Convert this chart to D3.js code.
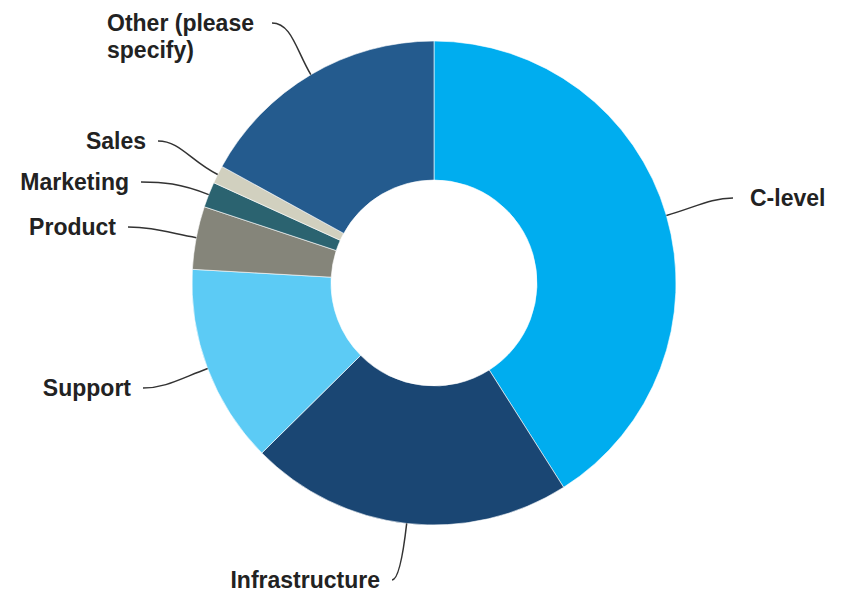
<!DOCTYPE html>
<html>
<head>
<meta charset="utf-8">
<script src="https://cdn.jsdelivr.net/npm/d3@7"></script>
<style>
  body { margin: 0; background: #fff; }
  svg text { font-family: "Liberation Sans", Arial, sans-serif; font-weight: bold; font-size: 23px; fill: #222; }
</style>
</head>
<body>
<svg></svg>
<script>
// slice data, clockwise from 12 o'clock
const categories = ["C-level", "Infrastructure", "Support", "Product", "Marketing", "Sales", "Other (please specify)"];
const shares = [41.0, 21.6, 13.3, 4.2, 1.7, 1.2, 17.0];
const colors = ["#00adef", "#1a4673", "#5ccbf5", "#85857a", "#2b6370", "#d1d0bf", "#245b8e"];

// label lines (text lines per category)
const labelLines = [["C-level"], ["Infrastructure"], ["Support"], ["Product"], ["Marketing"], ["Sales"], ["Other (please", "specify)"]];

const width = 841;
const height = 595;
const cx = 434, cy = 283;
const outerR = 242, innerR = 103;

// where each leader line ends, and which side the text sits
const labelAnchors = [
    { x: 733, y: 198, side: "right" },
    { x: 392, y: 580, side: "left" },
    { x: 143, y: 388, side: "left" },
    { x: 128, y: 227, side: "left" },
    { x: 141, y: 182, side: "left" },
    { x: 158, y: 141, side: "left" },
    { x: 272, y: 23, side: "leftTop" }
];

const svg = d3.select("svg")
    .attr("width", width)
    .attr("height", height);

const pie = d3.pie().sort(null).value(d => d.value);
const arcs = pie(categories.map((c, i) => ({ name: c, value: shares[i], i: i })));

const arc = d3.arc().innerRadius(innerR).outerRadius(outerR);
const edge = d3.arc().innerRadius(outerR).outerRadius(outerR);

const g = svg.append("g").attr("transform", `translate(${cx},${cy})`);

g.selectAll("path.slice")
    .data(arcs)
    .enter().append("path")
    .attr("class", "slice")
    .attr("d", arc)
    .attr("fill", d => colors[d.data.i])
    .attr("stroke", "#fff")
    .attr("stroke-width", 0.6);

// leader lines
svg.append("g").selectAll("path")
    .data(arcs)
    .enter().append("path")
    .attr("fill", "none")
    .attr("stroke", "#333")
    .attr("stroke-width", 1.5)
    .attr("d", d => {
        const c = edge.centroid(d);
        const p0 = [cx + c[0], cy + c[1]];
        const a = labelAnchors[d.data.i];
        const mid = (d.startAngle + d.endAngle) / 2;
        const dist = Math.hypot(a.x - p0[0], a.y - p0[1]);
        const L = dist * 0.45;
        const s = Math.sign(p0[0] - a.x) || 1;
        const p = d3.path();
        p.moveTo(p0[0], p0[1]);
        p.bezierCurveTo(
            p0[0] + Math.sin(mid) * L, p0[1] - Math.cos(mid) * L,
            a.x + s * Math.min(22, Math.abs(p0[0] - a.x) * 0.5), a.y,
            a.x, a.y);
        return p.toString();
    });

// labels
const labels = svg.append("g").selectAll("text")
    .data(arcs)
    .enter().append("text")
    .attr("text-anchor", d => labelAnchors[d.data.i].side === "right" ? "start" : "end")
    .attr("x", d => {
        const a = labelAnchors[d.data.i];
        return a.side === "right" ? a.x + 17 : a.x - 12;
    })
    .attr("y", d => labelAnchors[d.data.i].y);

labels.each(function(d) {
    const a = labelAnchors[d.data.i];
    const t = d3.select(this);
    const lines = labelLines[d.data.i];
    if (a.side === "leftTop") {
        // two-line label, left aligned
        t.attr("text-anchor", "start").attr("x", 107);
        lines.forEach((ln, k) => {
            t.append("tspan").attr("x", 107).attr("dy", k === 0 ? "0.33em" : "1.18em").text(ln);
        });
    } else {
        t.append("tspan").attr("dy", "0.35em").text(lines[0]);
    }
});
</script>
</body>
</html>
